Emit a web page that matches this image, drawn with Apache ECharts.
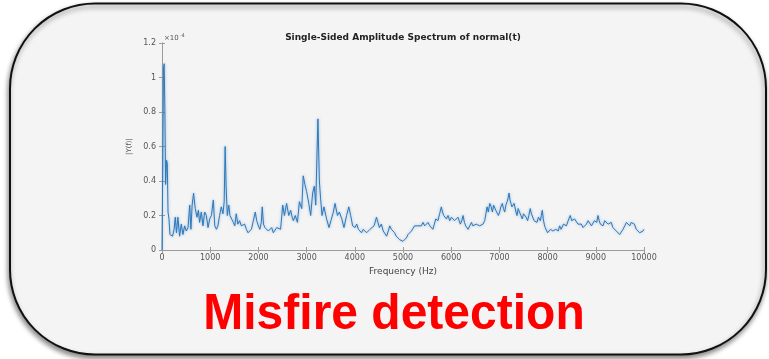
<!DOCTYPE html>
<html>
<head>
<meta charset="utf-8">
<script src="https://cdn.jsdelivr.net/npm/echarts@6/dist/echarts.min.js"></script>
<style>
  html, body { margin: 0; padding: 0; background: #ffffff; }
  #chart { width: 769px; height: 359px; }
</style>
</head>
<body>
<div id="chart"></div>
<script>
// Single-sided amplitude spectrum, amplitudes in units of 1e-4
const freqHz = [
  0, 15, 30, 45, 60, 75, 95, 110, 125, 145, 165, 190, 220, 250, 275, 300, 330, 365, 400, 435,
  470, 505, 540, 575, 600, 625, 655, 690, 725, 755, 780, 815, 850, 885, 920, 955, 990, 1025, 1065, 1095,
  1130, 1160, 1195, 1230, 1265, 1290, 1310, 1330, 1355, 1385, 1410, 1450, 1480, 1510, 1540, 1575, 1610, 1645, 1680, 1715,
  1750, 1785, 1820, 1855, 1895, 1935, 1965, 2000, 2030, 2060, 2080, 2105, 2135, 2170, 2205, 2240, 2275, 2310, 2345, 2380,
  2415, 2460, 2505, 2540, 2585, 2630, 2670, 2700, 2725, 2765, 2810, 2850, 2900, 2930, 2965, 3000, 3045, 3085, 3125, 3160,
  3190, 3215, 3235, 3265, 3290, 3320, 3360, 3415, 3465, 3505, 3555, 3590, 3640, 3680, 3730, 3775, 3830, 3875, 3915, 3955,
  4005, 4040, 4075, 4110, 4140, 4175, 4210, 4245, 4280, 4315, 4350, 4400, 4450, 4510, 4550, 4590, 4625, 4660, 4695, 4725,
  4760, 4790, 4825, 4860, 4900, 4930, 4965, 5000, 5035, 5070, 5105, 5140, 5175, 5210, 5240, 5275, 5310, 5345, 5380, 5415,
  5450, 5485, 5520, 5555, 5590, 5620, 5650, 5680, 5725, 5760, 5795, 5820, 5845, 5875, 5900, 5935, 5970, 6005, 6040, 6070,
  6095, 6140, 6190, 6220, 6245, 6275, 6300, 6350, 6385, 6420, 6450, 6485, 6520, 6555, 6590, 6625, 6660, 6695, 6720, 6745,
  6770, 6800, 6830, 6855, 6880, 6900, 6925, 6950, 6980, 7005, 7030, 7060, 7085, 7110, 7135, 7160, 7180, 7200, 7220, 7240,
  7260, 7280, 7305, 7325, 7345, 7365, 7390, 7420, 7445, 7475, 7500, 7530, 7555, 7585, 7610, 7640, 7665, 7695, 7720, 7750,
  7780, 7810, 7850, 7870, 7890, 7910, 7930, 7950, 7975, 8000, 8030, 8060, 8085, 8110, 8140, 8170, 8195, 8220, 8250, 8280,
  8305, 8330, 8360, 8390, 8415, 8440, 8470, 8500, 8525, 8560, 8595, 8630, 8665, 8700, 8735, 8770, 8805, 8840, 8875, 8910,
  8940, 8970, 9000, 9020, 9045, 9070, 9095, 9120, 9150, 9185, 9220, 9255, 9290, 9320, 9355, 9390, 9425, 9460, 9495, 9530,
  9565, 9600, 9635, 9670, 9705, 9735, 9770, 9800, 9840, 9875, 9910, 9945, 9980, 10000
];
const amplitude = [
  0.00, 0.45, 1.05, 1.08, 0.80, 0.38, 0.52, 0.50, 0.22, 0.18, 0.09, 0.08, 0.08, 0.12, 0.19, 0.10, 0.19, 0.08, 0.15, 0.09,
  0.14, 0.11, 0.13, 0.26, 0.12, 0.26, 0.33, 0.24, 0.19, 0.23, 0.16, 0.22, 0.14, 0.22, 0.20, 0.13, 0.18, 0.20, 0.29, 0.14,
  0.12, 0.14, 0.20, 0.25, 0.21, 0.28, 0.60, 0.37, 0.20, 0.26, 0.20, 0.21, 0.16, 0.14, 0.21, 0.15, 0.17, 0.14, 0.13, 0.15,
  0.12, 0.10, 0.11, 0.12, 0.12, 0.22, 0.17, 0.14, 0.12, 0.16, 0.25, 0.15, 0.13, 0.12, 0.11, 0.12, 0.13, 0.10, 0.11, 0.13,
  0.14, 0.12, 0.26, 0.20, 0.27, 0.20, 0.23, 0.19, 0.17, 0.20, 0.16, 0.28, 0.24, 0.43, 0.38, 0.34, 0.27, 0.20, 0.33, 0.37,
  0.26, 0.55, 0.76, 0.40, 0.30, 0.20, 0.25, 0.18, 0.13, 0.17, 0.22, 0.27, 0.20, 0.22, 0.18, 0.13, 0.20, 0.25, 0.20, 0.14,
  0.13, 0.15, 0.12, 0.13, 0.10, 0.12, 0.11, 0.10, 0.09, 0.12, 0.11, 0.14, 0.19, 0.13, 0.15, 0.11, 0.12, 0.08, 0.11, 0.14,
  0.12, 0.12, 0.10, 0.08, 0.07, 0.06, 0.06, 0.05, 0.06, 0.07, 0.09, 0.10, 0.11, 0.12, 0.14, 0.13, 0.14, 0.15, 0.14, 0.16,
  0.14, 0.15, 0.16, 0.14, 0.15, 0.12, 0.15, 0.18, 0.17, 0.21, 0.25, 0.22, 0.20, 0.19, 0.18, 0.20, 0.17, 0.19, 0.20, 0.17,
  0.16, 0.19, 0.15, 0.17, 0.20, 0.16, 0.14, 0.12, 0.14, 0.16, 0.14, 0.13, 0.15, 0.16, 0.14, 0.13, 0.15, 0.17, 0.21, 0.25,
  0.22, 0.27, 0.25, 0.22, 0.26, 0.27, 0.23, 0.24, 0.20, 0.22, 0.25, 0.27, 0.24, 0.22, 0.26, 0.28, 0.30, 0.33, 0.29, 0.27,
  0.25, 0.24, 0.27, 0.26, 0.22, 0.20, 0.24, 0.23, 0.20, 0.18, 0.21, 0.22, 0.19, 0.17, 0.20, 0.24, 0.21, 0.20, 0.17, 0.18,
  0.16, 0.19, 0.17, 0.20, 0.23, 0.18, 0.15, 0.13, 0.12, 0.10, 0.10, 0.12, 0.13, 0.11, 0.10, 0.12, 0.13, 0.11, 0.14, 0.12,
  0.13, 0.15, 0.16, 0.14, 0.15, 0.18, 0.20, 0.17, 0.16, 0.18, 0.17, 0.15, 0.14, 0.15, 0.13, 0.14, 0.15, 0.17, 0.16, 0.14,
  0.15, 0.17, 0.18, 0.16, 0.20, 0.17, 0.15, 0.16, 0.14, 0.17, 0.16, 0.15, 0.14, 0.16, 0.13, 0.12, 0.11, 0.10, 0.09, 0.10,
  0.12, 0.14, 0.16, 0.15, 0.14, 0.16, 0.17, 0.15, 0.12, 0.13, 0.10, 0.09, 0.11, 0.12
];

const titleText = 'Single-Sided Amplitude Spectrum of normal(t)';
const xAxisName = 'Frequency (Hz)';
const yAxisName = '|Y(f)|';
const captionText = 'Misfire detection';

const points = freqHz.map((f, i) => [f, amplitude[i]]);

const axisGray = '#9c9c9c';
const labelFont = 'DejaVu Sans';
const plainNumber = v => String(v);

const boxAxis = {
  axisLine: { show: true, lineStyle: { color: axisGray, width: 1 } },
  axisTick: { show: true, inside: true, length: 3, lineStyle: { color: axisGray } },
  splitLine: { show: false }
};

const chart = echarts.init(document.getElementById('chart'), null, { renderer: 'canvas' });

chart.setOption({
  animation: false,
  backgroundColor: '#ffffff',
  grid: { left: 162, right: 125, top: 43, bottom: 109, containLabel: false },
  xAxis: [
    Object.assign({
      type: 'value', position: 'bottom', min: 0, max: 10000, interval: 1000,
      axisLabel: { fontSize: 8, color: '#555', fontFamily: labelFont, margin: 4, formatter: plainNumber },
      name: xAxisName, nameLocation: 'middle', nameGap: 12,
      nameTextStyle: { fontSize: 9, color: '#444', fontFamily: labelFont }
    }, boxAxis),
    Object.assign({
      type: 'value', position: 'top', min: 0, max: 10000, interval: 1000,
      axisLabel: { show: false }
    }, boxAxis)
  ],
  yAxis: [
    Object.assign({
      type: 'value', position: 'left', min: 0, max: 1.2, interval: 0.2,
      axisLabel: { fontSize: 8, color: '#555', fontFamily: labelFont, margin: 6, formatter: plainNumber },
      name: yAxisName, nameLocation: 'middle', nameRotate: 90, nameGap: 28,
      nameTextStyle: { fontSize: 7, color: '#555', fontFamily: labelFont }
    }, boxAxis),
    Object.assign({
      type: 'value', position: 'right', min: 0, max: 1.2, interval: 0.2,
      axisLabel: { show: false }
    }, boxAxis)
  ],
  series: [{
    type: 'line',
    xAxisIndex: 0,
    yAxisIndex: 0,
    data: points,
    showSymbol: false,
    smooth: false,
    lineStyle: {
      color: '#2b78bd', width: 1,
      shadowBlur: 3, shadowColor: 'rgba(70,130,185,0.6)'
    },
    z: 3
  }],
  graphic: [
    {
      type: 'rect', z: -10, silent: true,
      shape: { x: 10, y: 3.5, width: 756, height: 351, r: 85 },
      style: {
        fill: '#f4f4f4', stroke: '#111', lineWidth: 2,
        shadowBlur: 5, shadowOffsetX: -1, shadowOffsetY: 3, shadowColor: 'rgba(0,0,0,0.45)'
      }
    },
    {
      type: 'text', x: 403, y: 38, silent: true,
      style: {
        text: titleText, textAlign: 'center', textVerticalAlign: 'middle',
        font: 'bold 9px "DejaVu Sans"', fill: '#222'
      }
    },
    {
      type: 'text', x: 164, y: 38, silent: true,
      style: {
        text: '{a|×10}{b|-4}', textVerticalAlign: 'middle',
        rich: {
          a: { fontSize: 7, fill: '#555', fontFamily: labelFont },
          b: { fontSize: 5, fill: '#555', fontFamily: labelFont, verticalAlign: 'top', padding: [0, 0, 5, 1] }
        }
      }
    },
    {
      type: 'text', x: 394, y: 315, scaleX: 0.96, silent: true,
      style: {
        text: captionText, x: 0, y: 0, textAlign: 'center', textVerticalAlign: 'middle',
        font: 'bold 50px "Liberation Sans", Arial, sans-serif', fill: '#ff0000'
      }
    }
  ]
});
</script>
</body>
</html>
